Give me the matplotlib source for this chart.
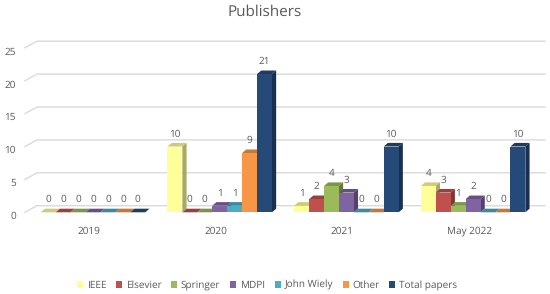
import matplotlib
matplotlib.use("Agg")
import matplotlib.pyplot as plt
from matplotlib.patches import Polygon, Patch
from matplotlib.transforms import ScaledTranslation

plt.rcParams['font.family'] = ['Open Sans', 'DejaVu Sans']
plt.rcParams['text.hinting'] = 'no_hinting'

categories = ["2019", "2020", "2021", "May 2022"]
ieee = [0, 10, 1, 4]
elsevier = [0, 0, 2, 3]
springer = [0, 0, 4, 1]
mdpi = [0, 1, 3, 2]
john_wiley = [0, 1, 0, 0]
other = [0, 9, 0, 0]
total_papers = [0, 21, 10, 10]
series_names = ["IEEE", "Elsevier", "Springer", "MDPI", "John Wiely", "Other", "Total papers"]
series_values = [ieee, elsevier, springer, mdpi, john_wiley, other, total_papers]
y_ticks = [0, 5, 10, 15, 20, 25]

front = ["#FFFF99", "#C0504D", "#9BBB59", "#8064A2", "#4BACC6", "#F79646", "#254A78"]
top = ["#CCCC7A", "#9A403E", "#7C9647", "#665082", "#3C8A9E", "#C67838", "#1E3B60"]
side = ["#A9A95F", "#7F3533", "#66793A", "#54426B", "#317182", "#A3632E", "#182F4F"]

W, H, DPI = 550, 294, 100
fig = plt.figure(figsize=(W / DPI, H / DPI), dpi=DPI, facecolor="white")
px_unit_x, px_unit_y = 126.7, 6.58
ax = fig.add_axes([25 / W, (H - 212.3) / H, 520 / W, 26 * px_unit_y / H])
ax.set_xlim(-0.5367, 3.5675)
ax.set_ylim(0, 26)
for s in ax.spines.values():
    s.set_visible(False)

GREY = "#595959"
# back wall grid lines and left wall diagonals
wall_dx, wall_dy = 12 / px_unit_x, 6.6 / px_unit_y
x0 = ax.get_xlim()[0]
x1 = ax.get_xlim()[1]
for v in y_ticks:
    ax.plot([x0, x0 + wall_dx, x1], [v, v + wall_dy, v + wall_dy], color="#DADADA",
            lw=1.0, clip_on=False, zorder=1, solid_joinstyle="miter")

bar_w = 14.93 / px_unit_x
dx, dy = 4.2 / px_unit_x, 3.6 / px_unit_y
n = len(series_names)
for j, (vals, name) in enumerate(zip(series_values, series_names)):
    xs = [i + (j - (n - 1) / 2) * bar_w for i in range(len(categories))]
    z = 3 + j
    for x, v in zip(xs, vals):
        l, r = x - bar_w / 2, x + bar_w / 2
        ax.add_patch(Polygon([(l, v), (r, v), (r + dx, v + dy), (l + dx, v + dy)],
                             fc=top[j], ec="none", clip_on=False, zorder=z))
        ax.add_patch(Polygon([(r, 0), (r + dx, dy), (r + dx, v + dy), (r, v)],
                             fc=side[j], ec="none", clip_on=False, zorder=z))
        ax.annotate(str(v), (x, v), xytext=(0, 12.6 * 72 / DPI), textcoords="offset points",
                    ha="center", va="center", fontsize=7.2, color=GREY, zorder=20,
                    annotation_clip=False)
    ax.bar(xs, vals, width=bar_w, color=front[j], edgecolor="none", zorder=z + 0.5, clip_on=False)

ax.set_yticks(y_ticks)
ax.set_xticks([i - 4 / px_unit_x for i in range(len(categories))])
ax.set_xticklabels(categories)
ax.tick_params(axis="both", length=0, labelcolor=GREY, labelsize=7.2)
ax.tick_params(axis="x", pad=10)
ax.tick_params(axis="y", pad=6.5)
shift = ScaledTranslation(0, -3 / DPI, fig.dpi_scale_trans)
for lab in ax.get_yticklabels():
    lab.set_transform(lab.get_transform() + shift)

fig.text(265 / W, 1 - 12 / H, "Publishers", ha="center", va="center", fontsize=11, color=GREY)

handles = [Patch(fc=c, ec="none", label=nm) for c, nm in zip(front, series_names)]
fig.legend(handles=handles, loc="center", bbox_to_anchor=(267 / W, 1 - 285.5 / H), ncol=7,
           frameon=False, fontsize=7.2, labelcolor=GREY, handlelength=0.6, handleheight=0.6,
           handletextpad=0.4, columnspacing=0.95, borderpad=0)

fig.savefig("out.png", dpi=DPI)
